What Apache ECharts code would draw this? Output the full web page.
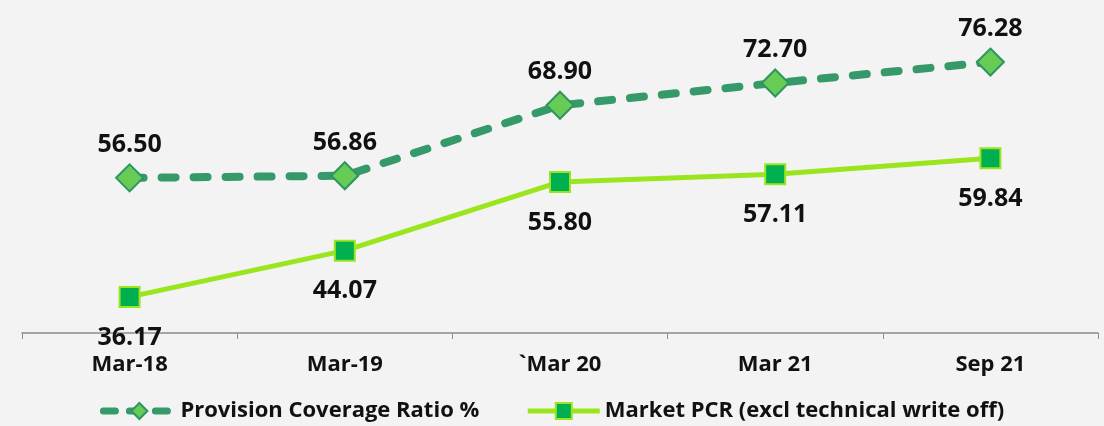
<!DOCTYPE html>
<html>
<head>
<meta charset="utf-8">
<script src="https://cdn.jsdelivr.net/npm/echarts@6/dist/echarts.min.js"></script>
<style>
html, body { margin: 0; padding: 0; background: #f3f3f4; }
#chart { width: 1104px; height: 426px; }
</style>
</head>
<body>
<div id="chart"></div>
<script>
// categories and values
var periods = ["Mar-18", "Mar-19", "`Mar 20", "Mar 21", "Sep 21"];
var pcrValues = [56.50, 56.86, 68.90, 72.70, 76.28];
var marketValues = [36.17, 44.07, 55.80, 57.11, 59.84];
var seriesNames = ["Provision Coverage Ratio %", "Market PCR (excl technical write off)"];

var font = "'Open Sans', 'DejaVu Sans', sans-serif";
var myChart = echarts.init(document.getElementById("chart"));

var option = {
    backgroundColor: "#f3f3f4",
    animation: false,
    grid: { left: 22, right: 6, top: 11, bottom: 93 },
    legend: {
        bottom: -1,
        left: "center",
        itemWidth: 72,
        itemHeight: 20,
        itemGap: 46,
        textStyle: { fontFamily: font, fontWeight: "bold", fontSize: 22, color: "#111" },
        data: [
            { name: seriesNames[0], lineStyle: { width: 7, type: [12, 14], cap: "round", color: "#35996a" } },
            { name: seriesNames[1], lineStyle: { width: 5, color: "#9be51f" } }
        ]
    },
    xAxis: {
        type: "category",
        data: periods,
        boundaryGap: true,
        axisLine: { lineStyle: { color: "#8c8c8c", width: 1.5 } },
        axisTick: { show: true, alignWithLabel: false, length: 6, lineStyle: { color: "#8c8c8c" } },
        axisLabel: { fontFamily: font, fontWeight: "bold", fontSize: 22, color: "#111", margin: 21 }
    },
    yAxis: {
        type: "value",
        min: 30,
        max: 85,
        show: false,
        splitLine: { show: false }
    },
    series: [
        {
            name: seriesNames[0],
            type: "line",
            data: pcrValues,
            symbol: "diamond",
            symbolSize: 27,
            lineStyle: { color: "#35996a", width: 8, type: [14, 18], cap: "round" },
            itemStyle: { color: "#66cc55", borderColor: "#2e9462", borderWidth: 2 },
            label: {
                show: true,
                position: "top",
                distance: 6,
                formatter: function (p) { return p.value.toFixed(2); },
                fontFamily: font, fontWeight: "bold", fontSize: 25, color: "#111"
            },
            z: 3
        },
        {
            name: seriesNames[1],
            type: "line",
            data: marketValues,
            symbol: "rect",
            symbolSize: 20,
            lineStyle: { color: "#9be51f", width: 5 },
            itemStyle: { color: "#00b050", borderColor: "#9be51f", borderWidth: 2 },
            label: {
                show: true,
                position: "bottom",
                distance: 17,
                formatter: function (p) { return p.value.toFixed(2); },
                fontFamily: font, fontWeight: "bold", fontSize: 25, color: "#111"
            },
            z: 2
        }
    ]
};
myChart.setOption(option, true);
</script>
</body>
</html>
